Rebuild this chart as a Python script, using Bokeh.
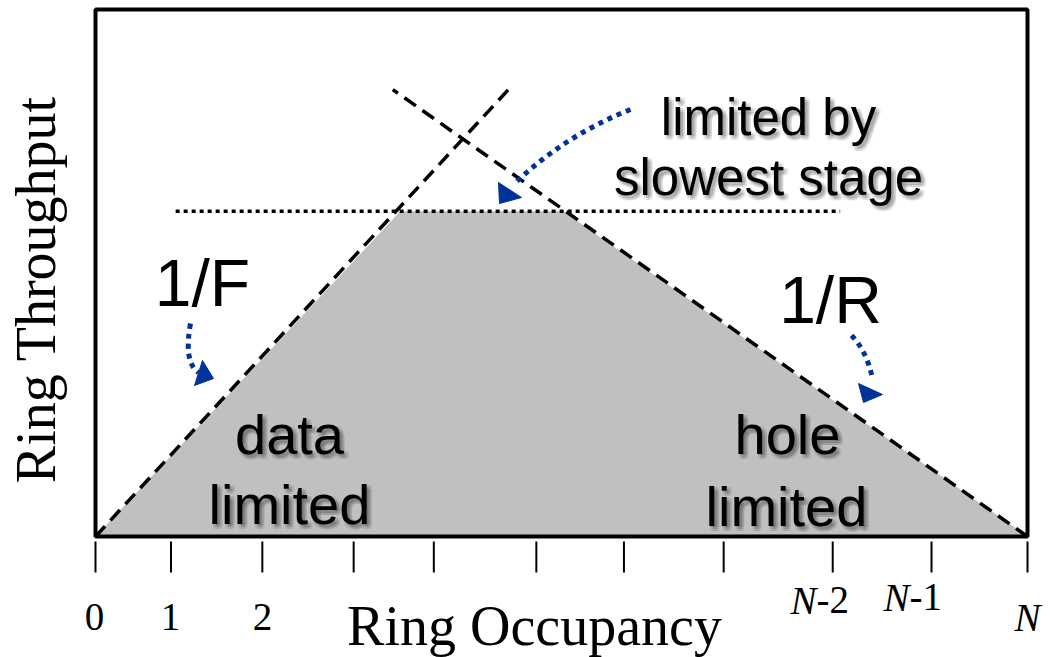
import math
from bokeh.plotting import figure
from bokeh.models import Range1d, Label
from bokeh.embed import file_html
from bokeh.resources import INLINE

# ---------------- data (arbitrary units: occupancy 0..100, throughput 0..100) ----------------
occupancy_ticks = [0, 8.1, 17.9, 27.7, 36.3, 47.3, 56.7, 67.4, 79.1, 89.7, 100]
plain_tick_labels = ["0", "1", "2"]        # labels of the first three ticks
n_tick_suffix = ["-2", "-1", ""]           # labels of the last three ticks: N-2, N-1, N

region_occ = [0, 32.7, 50.2, 100]          # shaded achievable region
region_thr = [0, 61.7, 61.7, 0]
f_occ = [0, 44.3]                          # 1/F (data limited) bound
f_thr = [0, 84.8]
r_occ = [100, 31.9]                        # 1/R (hole limited) bound
r_thr = [0, 84.8]
stage_occ = [8.6, 79.9]                    # slowest stage bound
stage_thr = [61.7, 61.7]

# ---------------- layout helpers (pixel -> data) ----------------
W, H = 1055, 657
FL, FR, FT, FB = 95, 1027, 9, 536          # plot box in pixels
XS = (FR - FL) / 100.0
YS = (FB - FT) / 100.0
def dx(px): return (px - FL) / XS
def dy(py): return (FB - py) / YS

p = figure(width=W, height=H, output_backend="svg", toolbar_location=None,
           x_range=Range1d(dx(0), dx(W)), y_range=Range1d(dy(H), dy(0)),
           min_border=0, x_axis_location=None, y_axis_location=None)
p.background_fill_color = "white"
p.border_fill_color = "white"
p.outline_line_color = None
p.xgrid.visible = False
p.ygrid.visible = False

# shaded region
p.patch(region_occ, region_thr, fill_color="#c0c0c0", line_color=None)
# bounds
p.line(f_occ, f_thr, line_color="black", line_width=3.5, line_dash="14 8")
p.line(r_occ, r_thr, line_color="black", line_width=3.5, line_dash="14 8")
p.line(stage_occ, stage_thr, line_color="black", line_width=3.5, line_dash="4 4")

# blue curved dotted arrows (annotation decoration)
BLUE = "#003399"
arrows = [
    # start, control, end, head triangle (pixels)
    ((630, 109), (564, 135), (513, 184), [(498, 182), (521, 197), (499, 203)]),
    ((190, 323), (183, 362), (198, 372), [(202, 360), (194, 385), (213, 378)]),
    ((851, 335), (866, 350), (872, 378), [(858, 383), (882, 394), (863, 402)]),
]
for (s, c, e, tri) in arrows:
    p.quadratic(x0=[dx(s[0])], y0=[dy(s[1])], x1=[dx(e[0])], y1=[dy(e[1])],
                cx=[dx(c[0])], cy=[dy(c[1])], line_color=BLUE, line_width=5, line_dash="5 5")
    p.patch([dx(t[0]) for t in tri], [dy(t[1]) for t in tri], fill_color=BLUE, line_color=BLUE, line_width=1)

# plot box and x-axis ticks
p.quad(left=[0], right=[100], bottom=[0], top=[100], fill_color=None,
       line_color="black", line_width=4)
p.segment(x0=occupancy_ticks, y0=[dy(541)] * len(occupancy_ticks),
          x1=occupancy_ticks, y1=[dy(572)] * len(occupancy_ticks),
          line_color="black", line_width=2)

K = 0.345  # baseline -> middle offset (fraction of font size)
def label(px, py, text, size, font="Liberation Sans", align="center", style="normal",
          angle=0.0, shadow=False):
    if angle == 0.0:
        cx, cy = px, py - K * size
    else:
        cx, cy = px - K * size, py
    if shadow:
        for ox in (1, 3, 5):
            for oy in (1, 3, 5):
                p.add_layout(Label(x=dx(cx), y=dy(cy), text=text, text_font=font,
                                   text_font_size=f"{size}px", text_align=align,
                                   text_baseline="middle", text_color="black",
                                   text_alpha=0.06, x_offset=ox, y_offset=-oy))
    p.add_layout(Label(x=dx(cx), y=dy(cy), text=text, text_font=font,
                       text_font_size=f"{size}px", text_align=align, text_font_style=style,
                       text_baseline="middle", text_color="black", angle=angle))

# region annotations
label(768, 135, "limited by", 51, shadow=True)
label(768, 195, "slowest stage", 51, shadow=True)
label(289, 453, "data", 56, shadow=True)
label(289, 523, "limited", 56, shadow=True)
label(787, 453, "hole", 56, shadow=True)
label(786, 525, "limited", 56, shadow=True)
label(202, 305, "1/F", 66)
label(830, 322, "1/R", 66)

# tick labels
SERIF = "Liberation Serif"
for px, t in zip([94, 170, 262], plain_tick_labels):
    label(px, 630, t, 39, font=SERIF)
for (px, py), suf in zip([(816, 613), (909, 610), (1027, 630)], n_tick_suffix):
    if suf:
        label(px, py, "N", 39, font=SERIF, align="right", style="italic")
        label(px, py, suf, 39, font=SERIF, align="left")
    else:
        label(px, py, "N", 39, font=SERIF, align="center", style="italic")

# axis titles
label(534, 645, "Ring Occupancy", 56, font=SERIF)
label(55, 289, "Ring Throughput", 56, font=SERIF, angle=math.pi / 2)

open("out.html", "w").write(file_html(p, INLINE))
